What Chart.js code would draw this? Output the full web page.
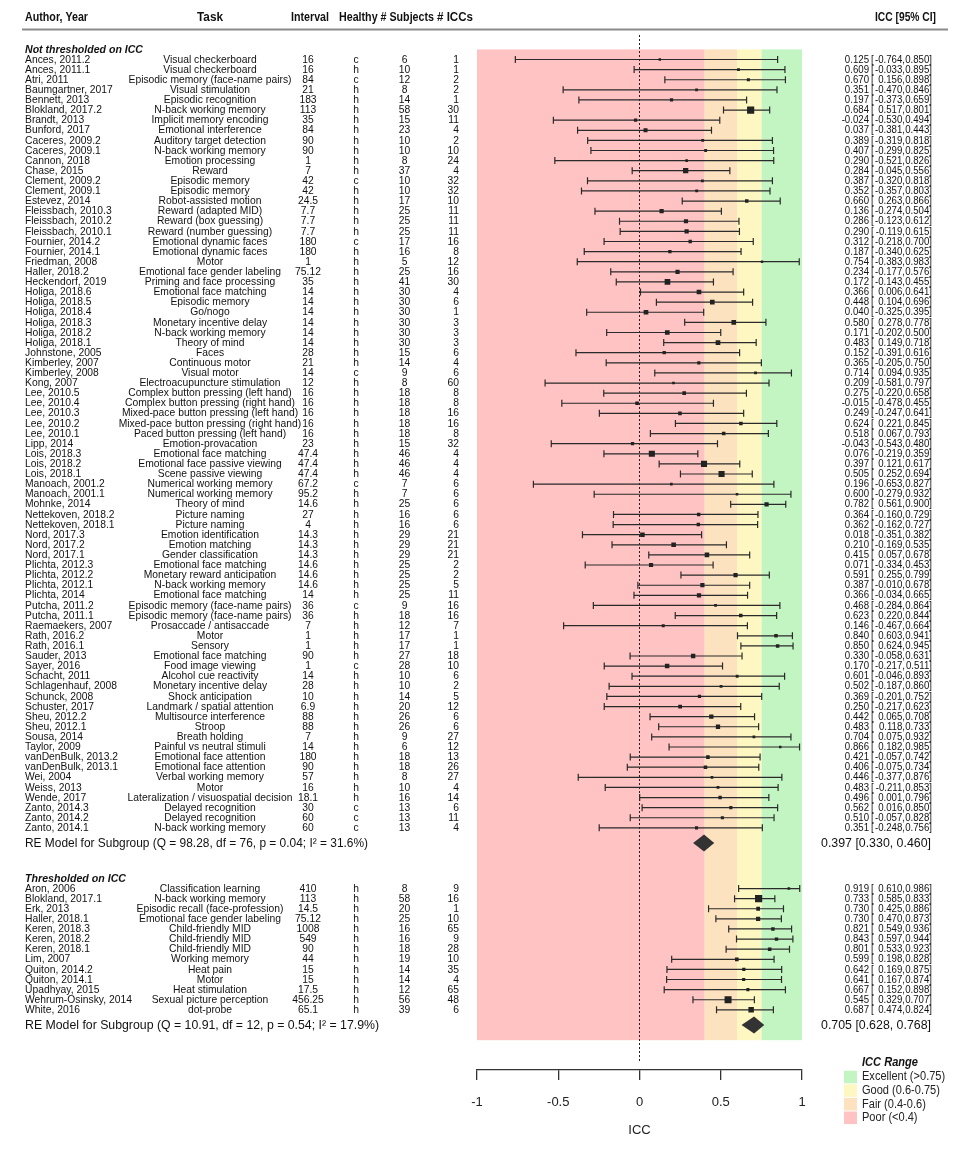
<!doctype html>
<html lang="en">
<head>
  <meta charset="utf-8" />
  <title>ICC forest plot</title>
  <style>
    html, body { margin: 0; padding: 0; background: #fff; }
    #caja { width: 974px; height: 1164px; }
  </style>
</head>
<body>
  <div id="caja"><canvas id="lienzo" width="974" height="1164"></canvas></div>
  <script src="https://cdn.jsdelivr.net/npm/chart.js"></script>
  <script>
    // ---- group 1: not thresholded on ICC ----
    const authors1 = ["Ances, 2011.2","Ances, 2011.1","Atri, 2011","Baumgartner, 2017","Bennett, 2013","Blokland, 2017.2","Brandt, 2013","Bunford, 2017","Caceres, 2009.2","Caceres, 2009.1","Cannon, 2018","Chase, 2015","Clement, 2009.2","Clement, 2009.1","Estevez, 2014","Fleissbach, 2010.3","Fleissbach, 2010.2","Fleissbach, 2010.1","Fournier, 2014.2","Fournier, 2014.1","Friedman, 2008","Haller, 2018.2","Heckendorf, 2019","Holiga, 2018.6","Holiga, 2018.5","Holiga, 2018.4","Holiga, 2018.3","Holiga, 2018.2","Holiga, 2018.1","Johnstone, 2005","Kimberley, 2007","Kimberley, 2008","Kong, 2007","Lee, 2010.5","Lee, 2010.4","Lee, 2010.3","Lee, 2010.2","Lee, 2010.1","Lipp, 2014","Lois, 2018.3","Lois, 2018.2","Lois, 2018.1","Manoach, 2001.2","Manoach, 2001.1","Mohnke, 2014","Nettekoven, 2018.2","Nettekoven, 2018.1","Nord, 2017.3","Nord, 2017.2","Nord, 2017.1","Plichta, 2012.3","Plichta, 2012.2","Plichta, 2012.1","Plichta, 2014","Putcha, 2011.2","Putcha, 2011.1","Raemaekers, 2007","Rath, 2016.2","Rath, 2016.1","Sauder, 2013","Sayer, 2016","Schacht, 2011","Schlagenhauf, 2008","Schunck, 2008","Schuster, 2017","Sheu, 2012.2","Sheu, 2012.1","Sousa, 2014","Taylor, 2009","vanDenBulk, 2013.2","vanDenBulk, 2013.1","Wei, 2004","Weiss, 2013","Wende, 2017","Zanto, 2014.3","Zanto, 2014.2","Zanto, 2014.1"];
    const tasks1 = ["Visual checkerboard","Visual checkerboard","Episodic memory (face-name pairs)","Visual stimulation","Episodic recognition","N-back working memory","Implicit memory encoding","Emotional interference","Auditory target detection","N-back working memory","Emotion processing","Reward","Episodic memory","Episodic memory","Robot-assisted motion","Reward (adapted MID)","Reward (box guessing)","Reward (number guessing)","Emotional dynamic faces","Emotional dynamic faces","Motor","Emotional face gender labeling","Priming and face processing","Emotional face matching","Episodic memory","Go/nogo","Monetary incentive delay","N-back working memory","Theory of mind","Faces","Continuous motor","Visual motor","Electroacupuncture stimulation","Complex button pressing (left hand)","Complex button pressing (right hand)","Mixed-pace button pressing (left hand)","Mixed-pace button pressing (right hand)","Paced button pressing (left hand)","Emotion-provacation","Emotional face matching","Emotional face passive viewing","Scene passive viewing","Numerical working memory","Numerical working memory","Theory of mind","Picture naming","Picture naming","Emotion identification","Emotion matching","Gender classification","Emotional face matching","Monetary reward anticipation","N-back working memory","Emotional face matching","Episodic memory (face-name pairs)","Episodic memory (face-name pairs)","Prosaccade / antisaccade","Motor","Sensory","Emotional face matching","Food image viewing","Alcohol cue reactivity","Monetary incentive delay","Shock anticipation","Landmark / spatial attention","Multisource interference","Stroop","Breath holding","Painful vs neutral stimuli","Emotional face attention","Emotional face attention","Verbal working memory","Motor","Lateralization / visuospatial decision","Delayed recognition","Delayed recognition","N-back working memory"];
    const interval1 = [16,16,84,21,183,113,35,84,90,90,1,7,42,42,24.5,7.7,7.7,7.7,180,180,1,75.12,35,14,14,14,14,14,14,28,21,14,12,16,16,16,16,16,23,47.4,47.4,47.4,67.2,95.2,14.6,27,4,14.3,14.3,14.3,14.6,14.6,14.6,14,36,36,7,1,1,90,1,14,28,10,6.9,88,88,7,14,180,90,57,16,18.1,30,60,60];
    const healthy1 = ["c","h","c","h","h","h","h","h","h","h","h","h","c","h","h","h","h","h","c","h","h","h","h","h","h","h","h","h","h","h","h","c","h","h","h","h","h","h","h","h","h","h","c","h","h","h","h","h","h","h","h","h","h","h","c","h","h","h","h","h","c","h","h","h","h","h","h","h","h","h","h","h","h","h","c","c","c"];
    const subjects1 = [6,10,12,8,14,58,15,23,10,10,8,37,10,10,17,25,25,25,17,16,5,25,41,30,30,30,30,30,30,15,14,9,8,18,18,18,18,18,15,46,46,46,7,7,25,16,16,29,29,29,25,25,25,25,9,18,12,17,17,27,28,10,10,14,20,26,26,9,6,18,18,8,10,16,13,13,13];
    const nIccs1 = [1,1,2,2,1,30,11,4,2,10,24,4,32,32,10,11,11,11,16,8,12,16,30,4,6,1,3,3,3,6,4,6,60,8,8,16,16,8,32,4,4,4,6,6,6,6,6,21,21,21,2,2,5,11,16,16,7,1,1,18,10,6,2,5,12,6,6,27,12,13,26,27,4,14,6,11,4];
    const icc1 = [0.125,0.609,0.670,0.351,0.197,0.684,-0.024,0.037,0.389,0.407,0.290,0.284,0.387,0.352,0.660,0.136,0.286,0.290,0.312,0.187,0.754,0.234,0.172,0.366,0.448,0.040,0.580,0.171,0.483,0.152,0.365,0.714,0.209,0.275,-0.015,0.249,0.624,0.518,-0.043,0.076,0.397,0.505,0.196,0.600,0.782,0.364,0.362,0.018,0.210,0.415,0.071,0.591,0.387,0.366,0.468,0.623,0.146,0.840,0.850,0.330,0.170,0.601,0.502,0.369,0.250,0.442,0.483,0.704,0.866,0.421,0.406,0.446,0.483,0.496,0.562,0.510,0.351];
    const lower1 = [-0.764,-0.033,0.156,-0.470,-0.373,0.517,-0.530,-0.381,-0.319,-0.299,-0.521,-0.045,-0.320,-0.357,0.263,-0.274,-0.123,-0.119,-0.218,-0.340,-0.383,-0.177,-0.143,0.006,0.104,-0.325,0.278,-0.202,0.149,-0.391,-0.205,0.094,-0.581,-0.220,-0.478,-0.247,0.221,0.067,-0.543,-0.219,0.121,0.252,-0.653,-0.279,0.561,-0.160,-0.162,-0.351,-0.169,0.057,-0.334,0.255,-0.010,-0.034,-0.284,0.220,-0.467,0.603,0.624,-0.058,-0.217,-0.046,-0.187,-0.201,-0.217,0.065,0.118,0.075,0.182,-0.057,-0.075,-0.377,-0.211,0.001,0.016,-0.057,-0.248];
    const upper1 = [0.850,0.895,0.898,0.846,0.659,0.801,0.494,0.443,0.818,0.825,0.826,0.556,0.818,0.803,0.866,0.504,0.612,0.615,0.700,0.625,0.983,0.576,0.455,0.641,0.696,0.395,0.778,0.500,0.718,0.616,0.750,0.935,0.797,0.658,0.455,0.641,0.845,0.793,0.480,0.359,0.617,0.694,0.827,0.932,0.900,0.729,0.727,0.382,0.535,0.678,0.453,0.799,0.678,0.665,0.864,0.844,0.664,0.941,0.945,0.631,0.511,0.893,0.860,0.752,0.623,0.708,0.733,0.932,0.985,0.742,0.734,0.876,0.853,0.796,0.850,0.828,0.756];

    // ---- group 2: thresholded on ICC ----
    const authors2 = ["Aron, 2006","Blokland, 2017.1","Erk, 2013","Haller, 2018.1","Keren, 2018.3","Keren, 2018.2","Keren, 2018.1","Lim, 2007","Quiton, 2014.2","Quiton, 2014.1","Upadhyay, 2015","Wehrum-Osinsky, 2014","White, 2016"];
    const tasks2 = ["Classification learning","N-back working memory","Episodic recall (face-profession)","Emotional face gender labeling","Child-friendly MID","Child-friendly MID","Child-friendly MID","Working memory","Heat pain","Motor","Heat stimulation","Sexual picture perception","dot-probe"];
    const interval2 = [410,113,14.5,75.12,1008,549,90,44,15,15,17.5,456.25,65.1];
    const healthy2 = ["h","h","h","h","h","h","h","h","h","h","h","h","h"];
    const subjects2 = [8,58,20,25,16,16,18,19,14,14,12,56,39];
    const nIccs2 = [9,16,1,10,65,9,28,10,35,4,65,48,6];
    const icc2 = [0.919,0.733,0.730,0.730,0.821,0.843,0.801,0.599,0.642,0.641,0.667,0.545,0.687];
    const lower2 = [0.610,0.585,0.425,0.470,0.549,0.597,0.533,0.198,0.169,0.167,0.152,0.329,0.474];
    const upper2 = [0.986,0.833,0.886,0.873,0.936,0.944,0.923,0.828,0.875,0.874,0.898,0.707,0.824];

    // ---- subgroup models ----
    const groupTitles = ["Not thresholded on ICC", "Thresholded on ICC"];
    const reLabels = ["RE Model for Subgroup (Q = 98.28, df = 76, p = 0.04; I\u00B2 = 31.6%)",
                      "RE Model for Subgroup (Q = 10.91, df = 12, p = 0.54; I\u00B2 = 17.9%)"];
    const reIcc = [0.397, 0.705];
    const reLower = [0.330, 0.628];
    const reUpper = [0.460, 0.768];

    // ---- ICC ranges ----
    const rangeNames = ["Excellent (>0.75)", "Good (0.6-0.75)", "Fair (0.4-0.6)", "Poor (<0.4)"];
    const rangeFrom = [0.75, 0.6, 0.4, -1];
    const rangeTo = [1, 0.75, 0.6, 0.4];
    const rangeColors = ["#c3f5c3", "#fff7c2", "#fde2c0", "#ffc3c3"];

    // row layout (metafor style: one unit per study)
    const g1Start = 1;
    const reRow1 = g1Start + authors1.length + 0.5;
    const head2 = reRow1 + 3.5;
    const g2Start = head2 + 1;
    const reRow2 = g2Start + authors2.length + 0.5;
    const bandBottom = reRow2 + 1.5;

    const groups = [
      {head: 0, start: g1Start, re: reRow1, a: authors1, t: tasks1, iv: interval1, h: healthy1, s: subjects1, n: nIccs1, e: icc1, lo: lower1, hi: upper1},
      {head: head2, start: g2Start, re: reRow2, a: authors2, t: tasks2, iv: interval2, h: healthy2, s: subjects2, n: nIccs2, e: icc2, lo: lower2, hi: upper2}
    ];

    // square size from inverse variance (fisher z), as metafor scales psize
    const wts = [];
    groups.forEach(g => g.e.forEach((v, i) => {
      const se = (Math.atanh(g.hi[i]) - Math.atanh(g.lo[i])) / 3.92;
      wts.push(1 / (se * se));
    }));
    const wMin = Math.min(...wts), wMax = Math.max(...wts);

    const puntos = [], radios = [];
    let k = 0;
    groups.forEach(g => g.e.forEach((v, i) => {
      puntos.push({x: v, y: g.start + i});
      const lado = 2.4 + 4.8 * (wts[k] - wMin) / (wMax - wMin);
      radios.push(lado / Math.SQRT2);
      k++;
    }));

    const FONT = "'Liberation Sans', Arial, sans-serif";
    Chart.defaults.font.family = FONT;

    function txt(ctx, s, x, y, o) {
      ctx.save();
      ctx.font = o.font;
      ctx.fillStyle = o.color || "#111";
      ctx.textBaseline = "middle";
      ctx.textAlign = o.align || "left";
      let sx = o.sx || 1;
      if (o.w) sx = o.w / ctx.measureText(s).width;
      ctx.translate(x, y);
      ctx.scale(sx, 1);
      ctx.fillText(s, 0, 0);
      ctx.restore();
    }
    function squeeze(ctx, font, s, w) {
      ctx.save(); ctx.font = font;
      const r = w / ctx.measureText(s).width;
      ctx.restore();
      return r;
    }

    const forest = {
      id: "forest",
      beforeDatasetsDraw(chart) {
        const {ctx, scales: {x, y}} = chart;
        ctx.save();
        // coloured ICC bands
        const top = y.getPixelForValue(0), bot = y.getPixelForValue(bandBottom);
        rangeNames.forEach((nm, i) => {
          const x0 = x.getPixelForValue(rangeFrom[i]), x1 = x.getPixelForValue(rangeTo[i]);
          ctx.fillStyle = rangeColors[i];
          ctx.fillRect(x0, top, x1 - x0, bot - top);
        });
        // dotted zero line
        ctx.strokeStyle = "#222";
        ctx.lineWidth = 1;
        ctx.setLineDash([2, 2]);
        ctx.beginPath();
        ctx.moveTo(x.getPixelForValue(0), 35);
        ctx.lineTo(x.getPixelForValue(0), 1063);
        ctx.stroke();
        ctx.setLineDash([]);
        // confidence intervals
        ctx.strokeStyle = "#2a2a2a";
        ctx.lineWidth = 1.2;
        groups.forEach(g => g.e.forEach((v, i) => {
          const py = y.getPixelForValue(g.start + i);
          const a = x.getPixelForValue(g.lo[i]), b = x.getPixelForValue(g.hi[i]);
          ctx.beginPath();
          ctx.moveTo(a, py); ctx.lineTo(b, py);
          ctx.moveTo(a, py - 3.5); ctx.lineTo(a, py + 3.5);
          ctx.moveTo(b, py - 3.5); ctx.lineTo(b, py + 3.5);
          ctx.stroke();
        }));
        ctx.restore();
      },
      afterDatasetsDraw(chart) {
        const {ctx, scales: {x, y}} = chart;
        ctx.save();
        ctx.fillStyle = "#333";
        groups.forEach((g, j) => {
          const py = y.getPixelForValue(g.re);
          ctx.beginPath();
          ctx.moveTo(x.getPixelForValue(reLower[j]), py);
          ctx.lineTo(x.getPixelForValue(reIcc[j]), py - 8.5);
          ctx.lineTo(x.getPixelForValue(reUpper[j]), py);
          ctx.lineTo(x.getPixelForValue(reIcc[j]), py + 8.5);
          ctx.closePath();
          ctx.fill();
        });
        ctx.restore();
      },
      afterDraw(chart) {
        const {ctx, scales: {y}} = chart;
        // column headers
        const hf = "bold 12.5px " + FONT;
        txt(ctx, "Author, Year", 25, 18, {font: hf, w: 63});
        txt(ctx, "Task", 197, 18, {font: hf, w: 26});
        txt(ctx, "Interval", 291, 18, {font: hf, w: 38});
        txt(ctx, "Healthy # Subjects", 339, 18, {font: hf, w: 95});
        txt(ctx, "# ICCs", 437, 18, {font: hf, w: 36});
        txt(ctx, "ICC [95% CI]", 875, 18, {font: hf, w: 61});
        ctx.save();
        ctx.strokeStyle = "#8a8a8a";
        ctx.lineWidth = 2;
        ctx.beginPath(); ctx.moveTo(22, 29.5); ctx.lineTo(948, 29.5); ctx.stroke();
        ctx.restore();

        const f = "11.4px " + FONT;
        const sxL = squeeze(ctx, f, "Episodic memory (face-name pairs)", 163);
        const sxR = squeeze(ctx, f, "0.125 [-0.764, 0.850]", 89);
        groups.forEach((g, j) => {
          txt(ctx, groupTitles[j], 25, y.getPixelForValue(g.head), {font: "bold italic 11.5px " + FONT, w: j === 0 ? 118 : 101});
          g.a.forEach((nm, i) => {
            const py = y.getPixelForValue(g.start + i);
            txt(ctx, nm, 25, py, {font: f, sx: sxL});
            txt(ctx, g.t[i], 210, py, {font: f, sx: sxL, align: "center"});
            txt(ctx, String(g.iv[i]), 308, py, {font: f, sx: sxL, align: "center"});
            txt(ctx, g.h[i], 356, py, {font: f, sx: sxL, align: "center"});
            txt(ctx, String(g.s[i]), 404.5, py, {font: f, sx: sxL, align: "center"});
            txt(ctx, String(g.n[i]), 459, py, {font: f, sx: sxL, align: "right"});
            txt(ctx, g.e[i].toFixed(3), 869, py, {font: f, sx: sxR, align: "right"});
            txt(ctx, "[", 871, py, {font: f, sx: sxR});
            txt(ctx, g.lo[i].toFixed(3) + ",", 905, py, {font: f, sx: sxR, align: "right"});
            txt(ctx, g.hi[i].toFixed(3) + "]", 932, py, {font: f, sx: sxR, align: "right"});
          });
          const ry = y.getPixelForValue(g.re);
          txt(ctx, reLabels[j], 25, ry, {font: "13.5px " + FONT, w: j === 0 ? 343 : 354});
          const sum = reIcc[j].toFixed(3) + " [" + reLower[j].toFixed(3) + ", " + reUpper[j].toFixed(3) + "]";
          txt(ctx, sum, 931, ry, {font: "13.5px " + FONT, w: 110, align: "right"});
        });

        // legend
        txt(ctx, "ICC Range", 862, 1063, {font: "bold italic 12px " + FONT, w: 56});
        rangeNames.forEach((nm, i) => {
          const cy = 1077 + i * 13.6;
          ctx.fillStyle = rangeColors[i];
          ctx.fillRect(844, cy - 6.3, 13, 12.6);
          txt(ctx, nm, 862, cy, {font: "12px " + FONT, sx: 0.92, color: "#222"});
        });
      }
    };

    const grafico = new Chart(document.getElementById("lienzo"), {
      type: "scatter",
      data: {
        datasets: [{
          data: puntos,
          pointStyle: "rect",
          pointRadius: radios,
          pointHoverRadius: radios,
          backgroundColor: "#222",
          borderWidth: 0
        }]
      },
      options: {
        responsive: false,
        animation: false,
        events: [],
        layout: {padding: {left: 477, right: 172, top: 49.4, bottom: 0}},
        plugins: {legend: {display: false}, tooltip: {enabled: false}},
        scales: {
          x: {
            type: "linear", min: -1, max: 1, position: "bottom",
            ticks: {stepSize: 0.5, color: "#222", font: {size: 13}, padding: 15, callback: v => String(v)},
            grid: {drawOnChartArea: false, drawTicks: true, tickLength: 10, color: "#333", lineWidth: 1.3},
            border: {display: true, color: "#333", width: 1.3},
            title: {display: true, text: "ICC", color: "#222", font: {size: 13}, padding: {top: 4, bottom: 26}},
            afterFit(s) { s.height = 94; }
          },
          y: {type: "linear", min: 0, max: 100.95, reverse: true, display: false}
        }
      },
      plugins: [forest]
    });
  </script>
</body>
</html>
